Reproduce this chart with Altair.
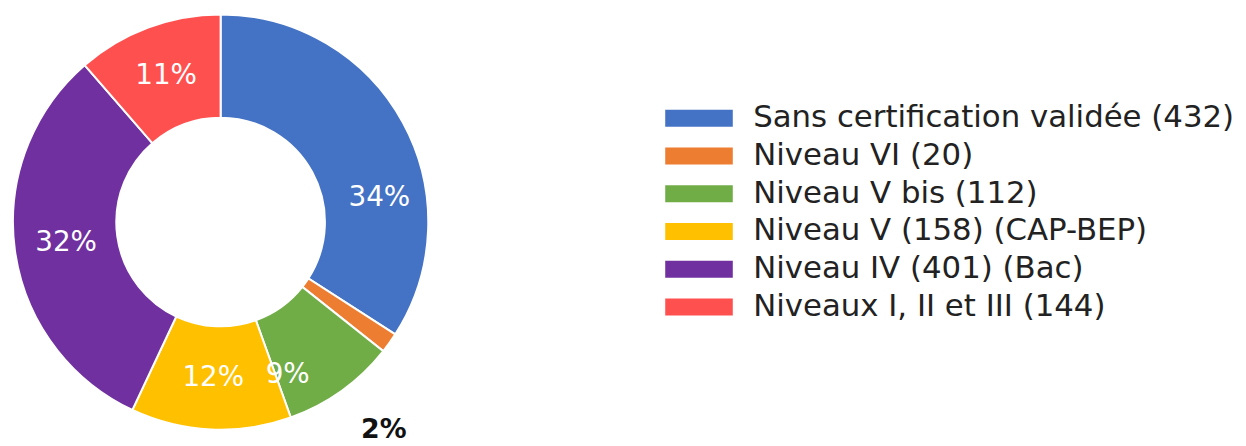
import altair as alt
import pandas as pd

categories = [
    "Sans certification validée",
    "Niveau VI",
    "Niveau V bis",
    "Niveau V",
    "Niveau IV",
    "Niveaux I, II et III",
]
counts = [432, 20, 112, 158, 401, 144]
suffixes = ["", "", "", " (CAP-BEP)", " (Bac)", ""]
colors = ["#4472C4", "#ED7D31", "#70AD47", "#FFC000", "#7030A0", "#FF5050"]

legend_labels = [f"{c} ({n}){s}" for c, n, s in zip(categories, counts, suffixes)]
TOTAL = sum(counts)

df = pd.DataFrame({
    "cat": legend_labels,
    "name": categories,
    "n": counts,
    "idx": list(range(len(categories))),
})

FONT = "DejaVu Sans"
theta_scale = alt.Scale(domain=[0, TOTAL], zero=True, nice=False)

base = alt.Chart(df).transform_joinaggregate(
    total="sum(n)"
).transform_calculate(
    pct="format(round(datum.n / datum.total * 100), 'd') + '%'"
).transform_window(
    t1="sum(n)", sort=[alt.SortField("idx", order="ascending")]
).transform_calculate(
    t0="datum.t1 - datum.n"
).transform_calculate(
    tmid="(datum.t0 + datum.t1) / 2"
)

arcs = base.mark_arc(innerRadius=105, outerRadius=209, stroke="white", strokeWidth=2).encode(
    theta=alt.Theta("t0:Q", stack=None, scale=theta_scale),
    theta2="t1:Q",
    color=alt.Color(
        "cat:N",
        scale=alt.Scale(domain=legend_labels, range=colors),
        sort=legend_labels,
        legend=alt.Legend(
            title=None,
            orient="none",
            legendX=680,
            legendY=94,
            symbolType="M-4,-1H4V1H-4Z",
            symbolSize=289,
            symbolStrokeWidth=0,
            labelOffset=39,
            labelFontSize=31,
            labelFont=FONT,
            labelColor="#222222",
            labelLimit=0,
            rowPadding=6,
            padding=0,
        ),
    ),
)

special = ["Sans certification validée", "Niveau V bis", "Niveau VI"]

def label_layer(pred, **kw):
    props = dict(radius=157, color="white", fontSize=28, font=FONT, fontWeight="normal",
                 align="center", baseline="middle")
    props.update(kw)
    return base.transform_filter(pred).mark_text(**props).encode(
        theta=alt.Theta("tmid:Q", stack=None, scale=theta_scale),
        text="pct:N",
    )

generic = label_layer(~alt.FieldOneOfPredicate(field="name", oneOf=special))
blue = label_layer(alt.datum.name == "Sans certification validée", dx=22, dy=51)
green = label_layer(alt.datum.name == "Niveau V bis", dx=-24, dy=26)
small = label_layer(alt.datum.name == "Niveau VI", radius=245, dx=-35, dy=67,
                    color="#111111", fontWeight="bold", fontSize=27)

chart = alt.layer(arcs, generic, blue, green, small).properties(
    width=428, height=428,
    autosize=alt.AutoSizeParams(type="none"),
    padding={"left": 0, "top": 0, "right": 810, "bottom": 14},
).configure_view(stroke=None).configure(background="white")

chart.save("out.html", embed_options={"renderer": "svg", "actions": False})
